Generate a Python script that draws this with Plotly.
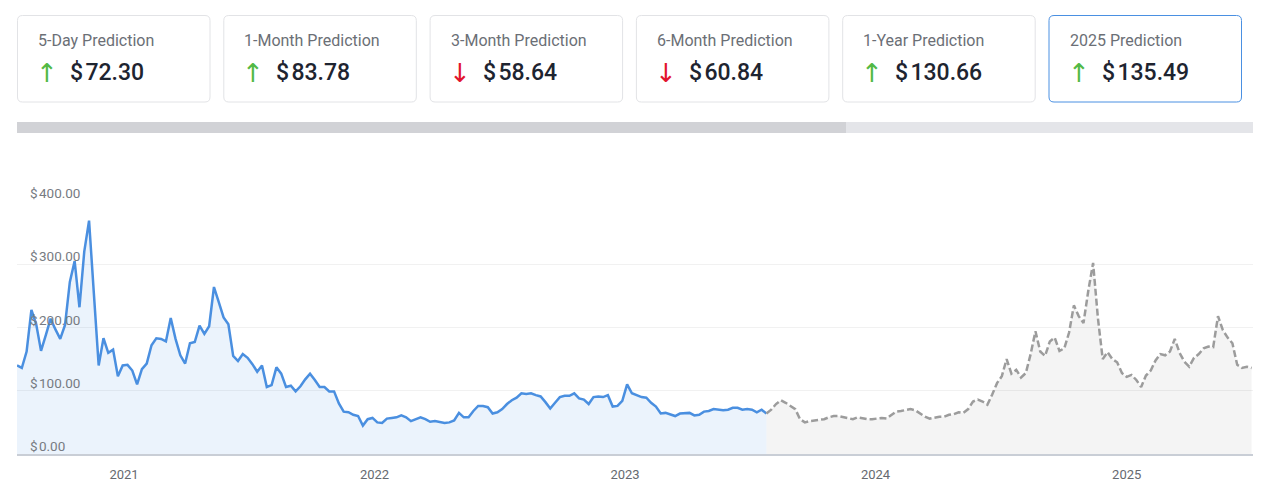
import pandas as pd
import plotly.graph_objects as go

# ---------------- data ----------------
card_labels = ["5-Day Prediction", "1-Month Prediction", "3-Month Prediction",
               "6-Month Prediction", "1-Year Prediction", "2025 Prediction"]
card_values = ["72.30", "83.78", "58.64", "60.84", "130.66", "135.49"]
card_up = [True, True, False, False, True, True]

hist_start = "2020-07-29"
hist_values = [
    140, 136, 162, 228, 205, 163, 188, 214, 197, 182,
    204, 272, 305, 232, 320, 369, 254, 140, 183, 160,
    165, 123, 140, 141, 132, 110, 134, 143, 172, 183,
    182, 178, 215, 182, 156, 143, 175, 177, 203, 190,
    202, 264, 240, 216, 205, 155, 147, 158, 152, 142,
    130, 140, 106, 109, 137, 127, 106, 108, 99, 107,
    118, 127, 117, 106, 106, 99, 99, 80, 67, 66,
    62, 60, 45, 55, 57, 50, 49, 56, 57, 58,
    61, 58, 52, 55, 58, 55, 51, 52, 51, 49,
    50, 53, 65, 58, 58, 68, 76, 76, 74, 64,
    66, 71, 79, 85, 89, 96, 95, 96, 93, 91,
    82, 72, 81, 90, 92, 92, 96, 88, 86, 79,
    90, 91, 90, 93, 75, 76, 84, 110, 96, 93,
    90, 89, 81, 75, 64, 65, 63, 60, 64, 64,
    65, 61, 62, 67, 68, 71, 70, 69, 70, 73,
    73, 70, 71, 70, 66, 70, 64,
]
fc_start = "2023-07-26"
fc_values = [
    64, 70, 79, 85, 81, 76, 71, 55, 50, 52,
    53, 55, 55, 58, 60, 60, 58, 57, 55, 58,
    56, 55, 55, 56, 57, 56, 61, 67, 68, 69,
    71, 69, 64, 59, 56, 58, 59, 59, 62, 63,
    66, 65, 71, 83, 86, 83, 78, 94, 112, 123,
    150, 127, 133, 121, 128, 158, 194, 162, 155, 178,
    184, 163, 167, 192, 235, 218, 207, 258, 302, 215,
    150, 161, 150, 145, 128, 122, 125, 117, 106, 124,
    132, 148, 158, 156, 162, 182, 160, 146, 138, 152,
    158, 167, 170, 169, 218, 196, 184, 175, 141, 136,
    138, 136,
]
year_ticks = ["2021-01-01", "2022-01-01", "2023-01-01", "2024-01-01", "2025-01-01"]
year_labels = ["2021", "2022", "2023", "2024", "2025"]
y_ticks = [0, 100, 200, 300, 400]

hist_dates = pd.date_range(hist_start, periods=len(hist_values), freq="7D")
fc_dates = pd.date_range(fc_start, periods=len(fc_values), freq="7D")

# ---------------- layout geometry ----------------
W, H = 1275, 497
ML, MR, MT, MB = 17, 22, 200, 43
PW = W - ML - MR
PH = H - MT - MB


def px(x):
    return (x - ML) / PW


def py(y):
    return (H - MB - y) / PH


def rrect(x0, y0, x1, y1, r):
    X0, X1, Y0, Y1 = px(x0), px(x1), py(y0), py(y1)
    rx, ry = r / PW, r / PH
    return (f"M {X0+rx},{Y0} L {X1-rx},{Y0} Q {X1},{Y0} {X1},{Y0-ry} "
            f"L {X1},{Y1+ry} Q {X1},{Y1} {X1-rx},{Y1} L {X0+rx},{Y1} "
            f"Q {X0},{Y1} {X0},{Y1+ry} L {X0},{Y0-ry} Q {X0},{Y0} {X0+rx},{Y0} Z")


fig = go.Figure()
fig.add_trace(go.Scatter(
    x=hist_dates, y=hist_values, mode="lines",
    line=dict(color="#4a8fe0", width=2.5),
    fill="tozeroy", fillcolor="rgba(74,143,224,0.11)",
    hoverinfo="skip", showlegend=False))
fig.add_trace(go.Scatter(
    x=fc_dates, y=fc_values, mode="lines",
    line=dict(color="#9c9c9c", width=2.5, dash="7px,3px"),
    fill="tozeroy", fillcolor="rgba(0,0,0,0.045)",
    hoverinfo="skip", showlegend=False))

shapes = []
annotations = []
pitch = 206.3
for i, (lab, val, up) in enumerate(zip(card_labels, card_values, card_up)):
    left = 17 + i * pitch
    border = "#4a90e2" if i == 5 else "#e2e3e6"
    shapes.append(dict(type="path", xref="paper", yref="paper",
                       path=rrect(left + 0.5, 15.5, left + 193, 102, 5),
                       line=dict(color=border, width=1), fillcolor="white", layer="below"))
    annotations.append(dict(xref="paper", yref="paper", x=px(left + 19), y=py(40),
                            xanchor="left", yanchor="middle", showarrow=False,
                            text=lab, font=dict(size=16, color="#6b6f76", family="Roboto")))
    annotations.append(dict(xref="paper", yref="paper", x=px(left + 30), y=py(73),
                            xanchor="center", yanchor="middle", showarrow=False,
                            text="\u2191" if up else "\u2193",
                            font=dict(size=26, color="#52b944" if up else "#e2142d",
                                      family="DejaVu Sans")))
    annotations.append(dict(xref="paper", yref="paper", x=px(left + 51), y=py(72),
                            xanchor="left", yanchor="middle", showarrow=False,
                            text="$\u200a" + val,
                            font=dict(size=23, color="#1e2430", family="Roboto", weight=500)))

# progress bar
shapes.append(dict(type="rect", xref="paper", yref="paper",
                   x0=px(17), x1=px(1253), y0=py(133), y1=py(122),
                   line=dict(width=0), fillcolor="#e4e5e9", layer="below"))
shapes.append(dict(type="rect", xref="paper", yref="paper",
                   x0=px(17), x1=px(846), y0=py(133), y1=py(122),
                   line=dict(width=0), fillcolor="#d1d2d6", layer="below"))

for v in y_ticks:
    annotations.append(dict(xref="paper", yref="y", x=px(28), y=v,
                            xanchor="left", yanchor="bottom", yshift=-2, showarrow=False,
                            text=f"$\u200a{v:.2f}",
                            font=dict(size=13.5, color="#777b82", family="Roboto")))

fig.update_layout(
    width=W, height=H,
    margin=dict(l=ML, r=MR, t=MT, b=MB, pad=0),
    paper_bgcolor="white", plot_bgcolor="white",
    font=dict(family="Roboto, sans-serif"),
    shapes=shapes, annotations=annotations,
    xaxis=dict(type="date", range=["2020-07-29", "2025-07-04"],
               tickvals=year_ticks, ticktext=year_labels,
               showgrid=False, zeroline=False, ticks="",
               ticklabelstandoff=8,
               showline=True, linecolor="#c9ced6", linewidth=1.5,
               tickfont=dict(size=13, color="#666a70"), fixedrange=True),
    yaxis=dict(range=[0, 400 * PH / 253], tickvals=y_ticks, showticklabels=False,
               showgrid=True, gridcolor="#f1f1f1", gridwidth=1, zeroline=False,
               ticks="", fixedrange=True),
)

fig.write_html("out.html")
